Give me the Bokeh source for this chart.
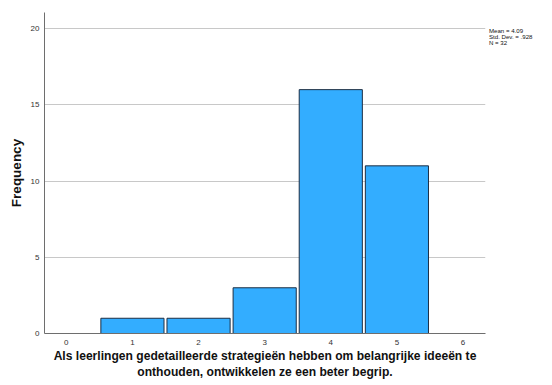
from bokeh.plotting import figure
from bokeh.models import Range1d, FixedTicker, ColumnDataSource, Div
from bokeh.layouts import row
from bokeh.embed import file_html
from bokeh.resources import INLINE

categories = [1, 2, 3, 4, 5]
counts = [1, 1, 3, 16, 11]
x_ticks = [0, 1, 2, 3, 4, 5, 6]
y_ticks = [0, 5, 10, 15, 20]
stats_lines = ["Mean = 4.09", "Std. Dev. = .928", "N = 32"]
x_title = "Als leerlingen gedetailleerde strategieën hebben om belangrijke ideeën te\nonthouden, ontwikkelen ze een beter begrip."
y_title = "Frequency"

FONT = "Liberation Sans"

p = figure(frame_width=441, frame_height=321, output_backend="svg", toolbar_location=None,
           x_range=Range1d(-0.33, 6.34), y_range=Range1d(0, 21.06),
           min_border_left=44, min_border_right=4, min_border_top=12, min_border_bottom=0)
p.outline_line_color = None
p.background_fill_color = "white"

src = ColumnDataSource(dict(x=categories, top=counts))
p.vbar(x="x", top="top", width=0.955, bottom=0, source=src,
       fill_color="#33adff", line_color="#1c2e44", line_width=1)

p.xgrid.grid_line_color = None
p.ygrid.grid_line_color = "#c8c8c8"
p.ygrid.grid_line_width = 1
p.ygrid.ticker = FixedTicker(ticks=y_ticks)

p.xaxis.ticker = FixedTicker(ticks=x_ticks)
p.yaxis.ticker = FixedTicker(ticks=y_ticks)
for ax in (p.xaxis[0], p.yaxis[0]):
    ax.axis_line_color = "#6e6e6e"
    ax.axis_line_width = 1
    ax.major_tick_line_color = None
    ax.minor_tick_line_color = None
    ax.major_tick_out = 0
    ax.major_tick_in = 0
    ax.major_label_text_font = FONT
    ax.major_label_text_font_size = "8px"
    ax.major_label_text_color = "#333333"
    ax.axis_label_text_font = FONT
    ax.axis_label_text_font_style = "bold"
    ax.axis_label_text_color = "#111111"

p.xaxis.axis_label = x_title
p.xaxis.axis_label_text_font_size = "12.1px"
p.xaxis.major_label_standoff = 6
p.xaxis.axis_label_standoff = 1
p.xaxis.axis_label_text_align = "center"
p.xaxis.axis_label_text_line_height = 1.15

p.yaxis.axis_label = y_title
p.yaxis.axis_label_text_font_size = "13.5px"
p.yaxis.major_label_standoff = 5
p.yaxis.axis_label_standoff = 4

stats = Div(text="<br>".join(stats_lines), width=60, height=40, margin=(28, 0, 0, 0),
            styles={"font-family": FONT, "font-size": "6.1px", "line-height": "5.9px",
                    "color": "#111111", "white-space": "nowrap"})

layout = row(p, stats)
open("out.html", "w").write(file_html(layout, INLINE))
